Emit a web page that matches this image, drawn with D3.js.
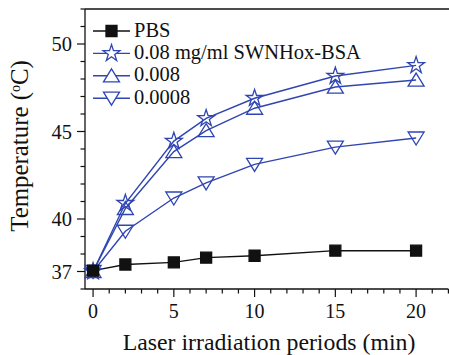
<!DOCTYPE html>
<html><head><meta charset="utf-8">
<script src="https://cdn.jsdelivr.net/npm/d3@7"></script>
<style>body{margin:0;background:#fff;}svg{display:block;}</style>
</head><body>
<script>
const times = [0, 2, 5, 7, 10, 15, 20];
const pbs = [37.05, 37.4, 37.52, 37.79, 37.9, 38.19, 38.19];
const c008 = [37.0, 40.9, 44.45, 45.75, 46.9, 48.17, 48.78];
const c0008 = [37.0, 40.6, 43.85, 45.05, 46.33, 47.54, 47.94];
const c00008 = [37.0, 39.3, 41.2, 42.06, 43.12, 44.11, 44.63];
const seriesNames = ["PBS", "0.08 mg/ml SWNHox-BSA", "0.008", "0.0008"];
const xTicks = [0, 5, 10, 15, 20];
const yTicks = [37, 40, 45, 50];

const W = 449, H = 355;
const FONT = "'Liberation Serif'";
const svg = d3.select("body").append("svg").attr("width", W).attr("height", H);
const x = d3.scaleLinear().domain([-0.5, 22]).range([85, 448.4]);
const y = d3.scaleLinear().domain([36, 52]).range([289, 9]);
const blue = "#2f45b2", black = "#111";

function txt(sel){ return sel.append("text").style("font-family", FONT).attr("fill", black); }
function fit(t, target){ const w = t.node().getComputedTextLength(); const fs = parseFloat(t.attr("font-size")); t.attr("font-size", fs * target / w); }

const sq = {draw(c, s){const h=5.5; c.rect(-h,-h,2*h,2*h);}};
const triUp = {draw(c, s){c.moveTo(0,-7); c.lineTo(8,6); c.lineTo(-8,6); c.closePath();}};
const triDown = {draw(c, s){c.moveTo(0,7); c.lineTo(8,-6); c.lineTo(-8,-6); c.closePath();}};
const star = d3.symbolStar;

const series = [
  {name: seriesNames[0], vals: pbs, color: black, sym: sq, size: 100, fill: black},
  {name: seriesNames[1], vals: c008, color: blue, sym: star, size: 88, fill: "#fff"},
  {name: seriesNames[2], vals: c0008, color: blue, sym: triUp, size: 100, fill: "#fff"},
  {name: seriesNames[3], vals: c00008, color: blue, sym: triDown, size: 100, fill: "#fff"}
];

const gx = svg.append("g").attr("transform", `translate(0,${y(36)})`);
gx.append("line").attr("x1", x(-0.5)).attr("x2", x(22)).attr("y1",0).attr("y2",0).attr("stroke",black).attr("stroke-width",1.3);
d3.range(0, 23).forEach(v => {
  const major = v % 5 === 0;
  gx.append("line").attr("x1", x(v)).attr("x2", x(v)).attr("y1", 0).attr("y2", major ? 8 : 4.5).attr("stroke", black).attr("stroke-width", 1.2);
});
xTicks.forEach(d => txt(gx).attr("x", x(d)).attr("y", 29).attr("text-anchor","middle").attr("font-size", 20).text(d));

const gy = svg.append("g").attr("transform", `translate(${x(-0.5)},0)`);
gy.append("line").attr("x1",0).attr("x2",0).attr("y1", y(36)).attr("y2", y(52)).attr("stroke",black).attr("stroke-width",1.3);
d3.range(36, 53).forEach(v => {
  const major = yTicks.includes(v);
  gy.append("line").attr("x1", major ? -8 : -4.5).attr("x2", 0).attr("y1", y(v)).attr("y2", y(v)).attr("stroke", black).attr("stroke-width", 1.2);
});
yTicks.forEach(d => txt(gy).attr("x", -13).attr("y", y(d) + 7).attr("text-anchor","end").attr("font-size", 20.5).text(d));
svg.append("line").attr("x1", x(-0.5)).attr("x2", W).attr("y1", y(52)).attr("y2", y(52)).attr("stroke", black).attr("stroke-width", 1.3);

const xt = txt(svg).attr("x", 269).attr("y", 350).attr("text-anchor","middle").attr("font-size", 21).text("Laser irradiation periods (min)");
fit(xt, 293);
const yt = txt(svg).attr("transform","translate(27.5,146) rotate(-90)").attr("text-anchor","middle").attr("font-size", 21);
yt.append("tspan").text("Temperature (");
yt.append("tspan").attr("font-size", 14).attr("dy", -8).text("o");
yt.append("tspan").attr("dy", 8).text("C)");
fit(yt, 173);

const line = d3.line().x((d,i) => x(times[i])).y(d => y(d));
series.forEach(s => {
  svg.append("path").attr("d", line(s.vals)).attr("fill","none").attr("stroke", s.color).attr("stroke-width", 1.4);
});
series.slice().reverse().forEach(s => {
  svg.selectAll(null).data(s.vals).join("path")
    .attr("transform", (d,i) => `translate(${x(times[i])},${y(d)})`)
    .attr("d", d3.symbol().type(s.sym).size(s.size)())
    .attr("fill", s.fill).attr("fill-opacity", s.fill === "#fff" ? 0 : 1)
    .attr("stroke", s.color).attr("stroke-width", 1.3);
});

const lg = svg.append("g");
let legendFs = 20;
series.forEach((s, i) => {
  const ly = 31 + i * 22.4;
  lg.append("line").attr("x1", 93).attr("x2", 130).attr("y1", ly).attr("y2", ly).attr("stroke", s.color).attr("stroke-width", 1.4);
  lg.append("path").attr("transform", `translate(111.5,${ly})`).attr("d", d3.symbol().type(s.sym).size(s.size)())
    .attr("fill", s.fill).attr("stroke", s.color).attr("stroke-width", 1.3);
  const t = txt(lg).attr("x", 134).attr("y", ly + 5.5).attr("font-size", 20).text(s.name);
  if (i === 1) { fit(t, 227); legendFs = parseFloat(t.attr("font-size")); }
});
lg.selectAll("text").attr("font-size", legendFs);
</script>
</body></html>
